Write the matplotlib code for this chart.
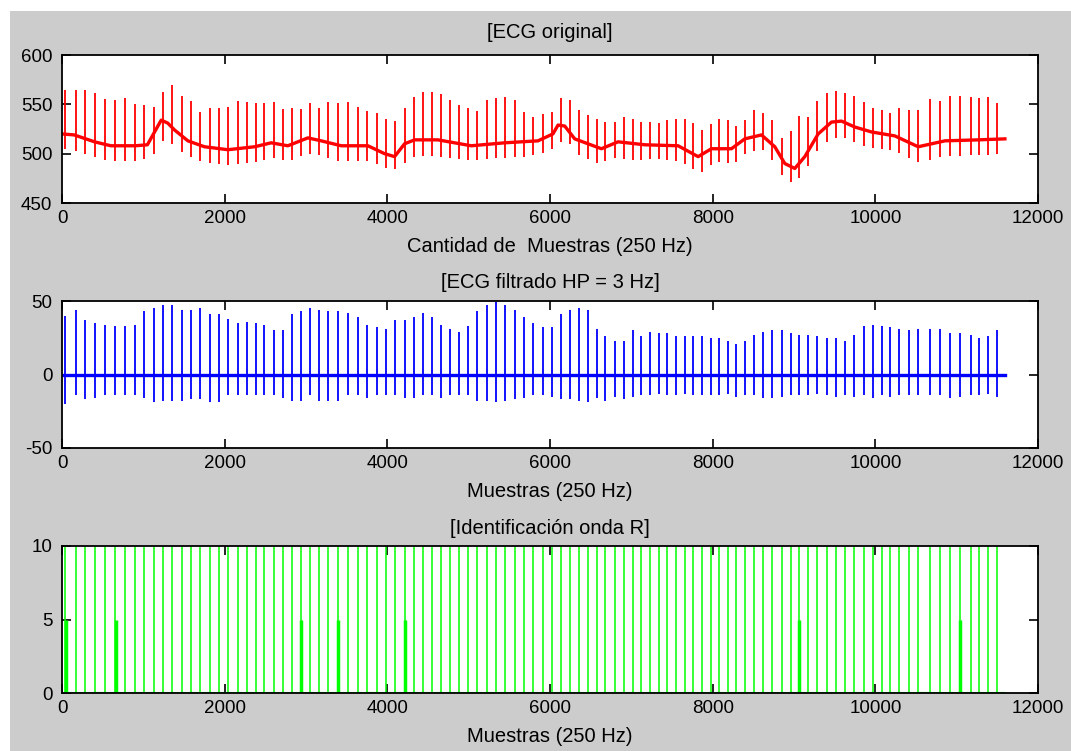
import matplotlib
matplotlib.use("Agg")
import matplotlib.pyplot as plt
from matplotlib.patches import Rectangle

plt.rcParams["font.family"] = ["Liberation Sans", "DejaVu Sans"]
plt.rcParams["axes.unicode_minus"] = False

# signal length (samples at 250 Hz)
n_samples = 11593

# R-peak sample indices (beats)
beats = [39, 166, 285, 400, 526, 646, 777, 892, 1007, 1125, 1240, 1355, 1470, 1584,
         1700, 1814, 1929, 2044, 2159, 2273, 2388, 2486, 2601, 2716, 2831, 2933, 3044,
         3160, 3266, 3396, 3519, 3634, 3745, 3868, 3982, 4096, 4213, 4327, 4434, 4549,
         4656, 4766, 4877, 4991, 5107, 5221, 5336, 5451, 5566, 5680, 5795, 5919,
         6025, 6132, 6242, 6357, 6468, 6578, 6681, 6796, 6907, 7017, 7124, 7235, 7341,
         7444, 7546, 7657, 7764, 7870, 7977, 8080, 8186, 8293, 8399, 8510, 8620, 8731,
         8847, 8961, 9063, 9174, 9285, 9401, 9511, 9626, 9740, 9860, 9974, 10078, 10184,
         10295, 10414, 10528, 10672, 10795, 10918, 11041, 11173, 11279, 11390, 11500]

# original ECG: baseline wander knots
base_x = [0, 150, 400, 600, 900, 1050, 1138, 1220, 1300, 1384, 1548, 1752, 2040, 2368,
          2572, 2777, 3023, 3187, 3433, 3761, 3966, 4089, 4212, 4335, 4622, 5032, 5442,
          5852, 6036, 6099, 6181, 6304, 6468, 6632, 6837, 7165, 7575, 7821, 7985, 8231,
          8395, 8600, 8764, 8887, 9010, 9133, 9297, 9461, 9584, 9748, 9953, 10240, 10527,
          10855, 11265, 11593]
base_y = [520, 519, 512, 508, 508, 509, 522, 534, 531, 524, 513, 507, 504, 507, 511, 508,
          516, 513, 508, 508, 500, 497, 510, 514, 514, 508, 511, 513, 520, 529, 528, 515,
          510, 505, 512, 509, 508, 497, 505, 505, 515, 519, 507, 490, 485, 497, 520, 532,
          533, 527, 522, 518, 507, 513, 514, 515]

# original ECG: R tops and S bottoms per beat
red_r = [565, 565, 565, 561, 555, 554, 556, 550, 549, 547, 562, 570, 558, 553, 542, 546,
         546, 547, 553, 552, 551, 551, 552, 545, 546, 545, 551, 546, 552, 551, 552, 547,
         543, 541, 535, 533, 546, 557, 562, 563, 560, 554, 549, 546, 543, 554, 556, 557,
         554, 542, 537, 540,
         542, 556, 554, 544, 539, 535, 532, 532, 537, 535, 532, 532, 531, 534, 535, 535,
         531, 524, 530, 535, 534, 528, 534, 544, 541, 534, 516, 523, 538, 537, 553, 561,
         564, 561, 558, 552, 546, 544, 541, 546, 544, 544, 555, 553, 558, 558, 557, 556,
         557, 551]
red_s = [505, 503, 500, 497, 494, 493, 493, 493, 495, 500, 513, 510, 502, 497, 493, 491,
         490, 489, 490, 491, 492, 494, 496, 494, 494, 498, 500, 499, 496, 493, 493, 493,
         493, 490, 485, 484, 491, 497, 498, 498, 497, 496, 495, 494, 494, 495, 496, 496,
         497, 497, 499, 501,
         505, 512, 510, 499, 495, 491, 493, 496, 495, 494, 494, 495, 495, 494, 493, 490,
         484, 481, 489, 492, 491, 492, 500, 503, 504, 494, 478, 471, 475, 488, 503, 512,
         516, 516, 512, 508, 506, 505, 504, 501, 496, 492, 494, 497, 498, 498, 499, 499,
         499, 500]

# high-pass filtered ECG: R tops and S bottoms per beat
blue_r = [40, 44, 37, 35, 34, 33, 33, 34, 43, 45, 47, 47, 44, 44, 45, 41, 41, 38, 35, 36,
          35, 34, 30, 30, 41, 43, 45, 44, 43, 43, 42, 39, 34, 32, 31, 37, 37, 39, 42, 39,
          34, 31, 29, 33, 43, 47, 49, 47, 44, 39, 35, 32,
          32, 41, 44, 45, 44, 31, 26, 23, 23, 30, 26, 29, 28, 28, 26, 26, 26, 26, 25, 25,
          23, 21, 23, 27, 29, 30, 30, 28, 27, 27, 26, 25, 25, 23, 27, 33, 34, 33, 32, 31,
          30, 31, 31, 31, 28, 28, 27, 25, 26, 30]
blue_s = [-20, -14, -17, -16, -14, -14, -14, -14, -16, -19, -18, -18, -18, -17, -17, -19,
          -19, -14, -14, -14, -14, -14, -14, -16, -18, -18, -14, -18, -18, -18, -14, -14,
          -16, -14, -14, -14, -16, -16, -14, -14, -16, -14, -14, -14, -18, -18, -19, -18,
          -17, -16, -14, -14,
          -15, -17, -17, -18, -19, -16, -18, -15, -17, -15, -14, -14, -13, -14, -14, -13,
          -14, -14, -14, -14, -13, -15, -14, -14, -16, -16, -15, -14, -14, -14, -13, -14,
          -15, -14, -15, -14, -16, -14, -15, -14, -14, -14, -14, -14, -16, -15, -14, -14,
          -13, -15]

# R-wave identification: half-height marks
half_idx = [51, 658, 2933, 3396, 4213, 9063, 11041]
full_level = 10
half_level = 5

W, H = 1071, 751
fig = plt.figure(figsize=(W / 100, H / 100), dpi=100, facecolor="white")
fig.patches.append(Rectangle((10 / W, 0), 1, 1 - 11 / H, transform=fig.transFigure,
                             facecolor="#cccccc", edgecolor="none", zorder=-10))

LABEL_FS = 14.5


def make_axes(top_px, bottom_px):
    ax = fig.add_axes([62 / W, 1 - bottom_px / H, 976 / W, (bottom_px - top_px) / H])
    ax.set_facecolor("white")
    ax.set_xlim(0, 12000)
    ax.set_xticks(range(0, 12001, 2000))
    ax.tick_params(direction="in", top=True, right=True, length=6.5, width=1.2,
                   labelsize=13.5, pad=5, colors="black")
    ax.tick_params(axis="y", pad=7)
    for s in ax.spines.values():
        s.set_linewidth(1.3)
        s.set_color("black")
    return ax


# ── ECG original ──
ax1 = make_axes(55, 203)
ax1.plot(base_x, base_y, color="red", linewidth=2.4)
ax1.vlines(beats, red_s, red_r, color="red", linewidth=1.3)
ax1.set_ylim(450, 600)
ax1.set_yticks([450, 500, 550, 600])
ax1.set_title("[ECG original]", fontsize=LABEL_FS, pad=12)
ax1.set_xlabel("Cantidad de  Muestras (250 Hz)", fontsize=LABEL_FS, labelpad=7)

# ── ECG filtrado ──
ax2 = make_axes(301, 448)
ax2.plot([0, n_samples], [0, 0], color="blue", linewidth=2.4)
ax2.vlines(beats, blue_s, blue_r, color="blue", linewidth=1.3)
ax2.set_ylim(-50, 50)
ax2.set_yticks([-50, 0, 50])
ax2.set_title("[ECG filtrado HP = 3 Hz]", fontsize=LABEL_FS, pad=9)
ax2.set_xlabel("Muestras (250 Hz)", fontsize=LABEL_FS, labelpad=7)

# ── Identificación onda R ──
ax3 = make_axes(546, 693)
ax3.plot([0, n_samples], [0, 0], color="#00ff00", linewidth=1.5)
ax3.vlines(beats, 0, full_level, color="#00ff00", linewidth=1.1)
ax3.vlines(half_idx, 0, half_level, color="#00ff00", linewidth=2.5)
ax3.set_ylim(0, 10)
ax3.set_yticks([0, 5, 10])
ax3.set_title("[Identificación onda R]", fontsize=LABEL_FS, pad=9)
ax3.set_xlabel("Muestras (250 Hz)", fontsize=LABEL_FS, labelpad=7)

fig.savefig("out.png", dpi=100)
